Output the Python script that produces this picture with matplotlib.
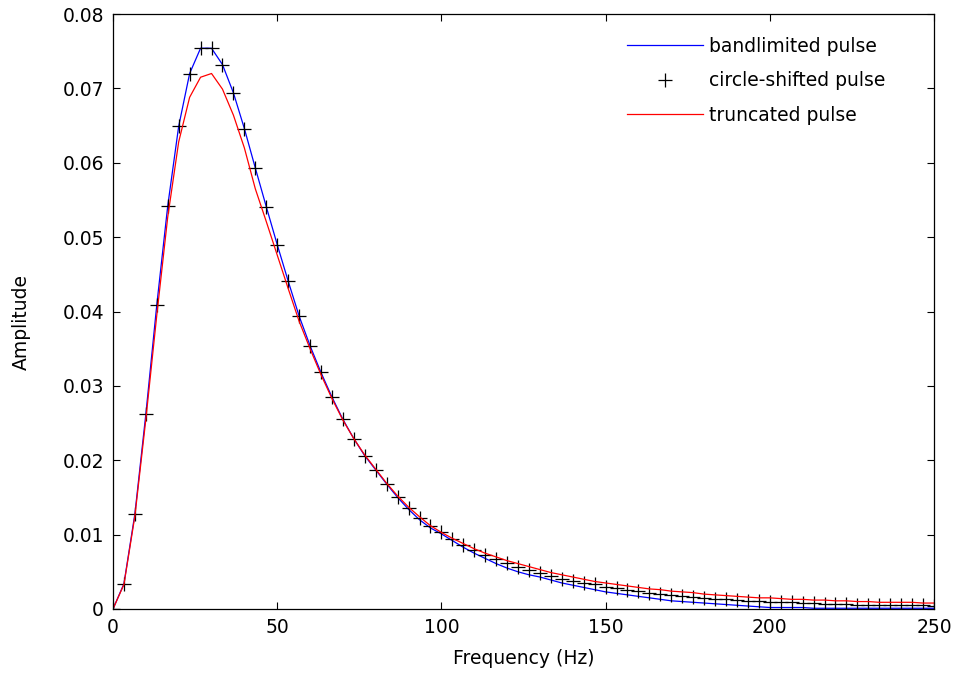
import numpy as np
import matplotlib
matplotlib.use("Agg")
import matplotlib.pyplot as plt

plt.rcParams['font.family'] = ['DejaVu Sans']

# sample grid: 76 bins from 0 to 250 Hz (df = 10/3 Hz)
freq = np.linspace(0, 250, 76)

bandlimited = [
    0.0, 0.0034, 0.0128, 0.0262, 0.0409, 0.0542, 0.0649, 0.0720, 0.0754, 0.0754,
    0.0732, 0.0694, 0.0646, 0.0593, 0.0541, 0.0490, 0.0441, 0.0394, 0.0354, 0.0318,
    0.0285, 0.0255, 0.0229, 0.0206, 0.0187, 0.0168, 0.0150, 0.0134, 0.0120, 0.0109,
    0.0101, 0.0092, 0.0083, 0.0075, 0.0068, 0.0061, 0.0055, 0.0050, 0.0046, 0.0043,
    0.0039, 0.0035, 0.0032, 0.0029, 0.0026, 0.0023, 0.0021, 0.0019, 0.0017, 0.0015,
    0.0013, 0.0011, 0.0010, 0.0009, 0.0008, 0.0007, 0.0006, 0.0005, 0.0004, 0.0003,
    0.0002, 0.0002, 0.0002, 0.0002, 0.0001, 0.0001, 0.0001, 0.0001, 0.0001, 0.0001,
    0.0001, 0.0001, 0.0001, 0.0001, 0.0001, 0.0001,
]

circle_shifted = [
    0.0, 0.0034, 0.0128, 0.0262, 0.0409, 0.0542, 0.0649, 0.0720, 0.0754, 0.0754,
    0.0732, 0.0694, 0.0646, 0.0593, 0.0541, 0.0490, 0.0441, 0.0394, 0.0354, 0.0318,
    0.0285, 0.0255, 0.0229, 0.0206, 0.0187, 0.0168, 0.0151, 0.0136, 0.0123, 0.0112,
    0.0103, 0.0094, 0.0086, 0.0079, 0.0073, 0.0067, 0.0062, 0.0057, 0.0053, 0.0049,
    0.0045, 0.0041, 0.0038, 0.0035, 0.0033, 0.0030, 0.0028, 0.0026, 0.0024, 0.0022,
    0.0020, 0.0019, 0.0018, 0.0016, 0.0015, 0.0014, 0.0013, 0.0012, 0.0011, 0.0011,
    0.0010, 0.0009, 0.0009, 0.0008, 0.0008, 0.0007, 0.0007, 0.0007, 0.0006, 0.0006,
    0.0006, 0.0005, 0.0005, 0.0005, 0.0005, 0.0004,
]

truncated = [
    0.0, 0.0033, 0.0125, 0.0255, 0.0395, 0.0527, 0.0628, 0.0688, 0.0715, 0.0720,
    0.0699, 0.0664, 0.0620, 0.0565, 0.0521, 0.0476, 0.0431, 0.0387, 0.0350, 0.0315,
    0.0283, 0.0254, 0.0229, 0.0207, 0.0188, 0.0169, 0.0152, 0.0137, 0.0124, 0.0112,
    0.0103, 0.0095, 0.0088, 0.0081, 0.0075, 0.0070, 0.0065, 0.0061, 0.0057, 0.0053,
    0.0049, 0.0046, 0.0043, 0.0040, 0.0037, 0.0035, 0.0033, 0.0031, 0.0029, 0.0027,
    0.0026, 0.0024, 0.0023, 0.0022, 0.0020, 0.0019, 0.0018, 0.0017, 0.0016, 0.0015,
    0.0015, 0.0014, 0.0013, 0.0013, 0.0012, 0.0012, 0.0011, 0.0011, 0.0010, 0.0010,
    0.0009, 0.0009, 0.0009, 0.0009, 0.0008, 0.0008,
]

fig = plt.figure(figsize=(9.61, 6.77), dpi=100)
ax = fig.add_axes([113 / 961, 68 / 677, 821 / 961, 595 / 677])

ax.plot(freq, bandlimited, color='blue', lw=0.9, label='bandlimited pulse')
ax.plot(freq, circle_shifted, ls='none', marker='+', color='black',
        ms=10, mew=0.9, label='circle-shifted pulse')
ax.plot(freq, truncated, color='red', lw=0.9, label='truncated pulse')

ax.set_xlim(0, 250)
ax.set_ylim(0, 0.08)
ax.set_xticks([0, 50, 100, 150, 200, 250])
ax.set_yticks(np.arange(0, 0.081, 0.01))
ax.set_yticklabels(['0', '0.01', '0.02', '0.03', '0.04', '0.05', '0.06', '0.07', '0.08'])
ax.tick_params(direction='in', length=5, width=0.8, top=True, right=True,
               labelsize=13.5, pad=6.5)
for s in ax.spines.values():
    s.set_linewidth(0.9)

ax.set_xlabel('Frequency (Hz)', fontsize=13.5)
ax.set_ylabel('Amplitude', fontsize=13.5)
ax.xaxis.set_label_coords(0.5, -0.068)
ax.yaxis.set_label_coords(-0.100, 0.483)

ax.legend(loc='upper left', bbox_to_anchor=(0.626, 0.962), frameon=False,
          fontsize=13.5, handlelength=4.05, handletextpad=0.32,
          labelspacing=0.83, borderpad=0, borderaxespad=0)

fig.savefig('out.png', dpi=100)
